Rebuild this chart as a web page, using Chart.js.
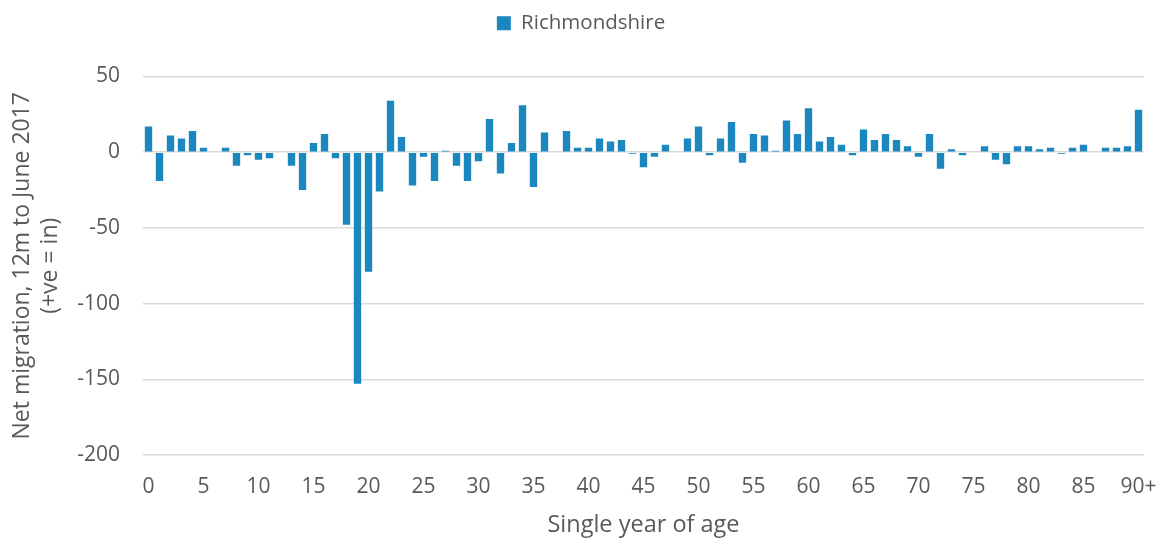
<!DOCTYPE html>
<html><head><meta charset="utf-8">
<script src="https://cdn.jsdelivr.net/npm/chart.js@4.4.1/dist/chart.umd.min.js"></script>
<style>html,body{margin:0;padding:0;background:#fff}#wrap{width:1162px;height:540px;position:relative}</style>
</head><body><div id="wrap"><canvas id="c"></canvas></div>
<script>
const categories = ['0','1','2','3','4','5','6','7','8','9','10','11','12','13','14','15','16','17','18','19',
'20','21','22','23','24','25','26','27','28','29','30','31','32','33','34','35','36','37','38','39',
'40','41','42','43','44','45','46','47','48','49','50','51','52','53','54','55','56','57','58','59',
'60','61','62','63','64','65','66','67','68','69','70','71','72','73','74','75','76','77','78','79',
'80','81','82','83','84','85','86','87','88','89','90+'];
const richmondshire = [17,-19,11,9,14,3,0,3,-9,-2,
-5,-4,0,-9,-25,6,12,-4,-48,-153,
-79,-26,34,10,-22,-3,-19,1,-9,-19,
-6,22,-14,6,31,-23,13,0,14,3,
3,9,7,8,-1,-10,-3,5,0,9,
17,-2,9,20,-7,12,11,1,21,12,
29,7,10,5,-2,15,8,12,8,4,
-3,12,-11,2,-2,0,4,-5,-8,4,
4,2,3,-1,3,5,0,3,3,4,28];
const xTickLabels = ['0','5','10','15','20','25','30','35','40','45','50','55','60','65','70','75','80','85','90+'];
const yTicks = [-200,-150,-100,-50,0,50];
const seriesName = 'Richmondshire';
const yTitle = ['Net migration, 12m to June 2017','(+ve = in)'];
const xTitle = 'Single year of age';

const FONT = "'Open Sans', 'DejaVu Sans', sans-serif";
const TXT = '#595959';
const BAR = '#1a87bf';

const legendSpace = {
  id: 'legendSpace',
  beforeUpdate(chart) {
    const lg = chart.legend;
    if (lg && !lg._wrapped) {
      const orig = lg.fit.bind(lg);
      lg.fit = function () { orig(); this.height += 33; };
      lg._wrapped = true;
    }
  }
};

new Chart(document.getElementById('c'), {
  type: 'bar',
  data: {
    labels: categories,
    datasets: [{
      label: seriesName,
      data: richmondshire,
      backgroundColor: BAR,
      borderWidth: 0,
      barPercentage: 1,
      categoryPercentage: 0.67
    }]
  },
  options: {
    responsive: true,
    maintainAspectRatio: false,
    animation: false,
    layout: { padding: { left: 0, right: 0, top: 3, bottom: 0 } },
    plugins: {
      legend: {
        position: 'top',
        labels: {
          boxWidth: 14, boxHeight: 14, padding: 10,
          color: TXT,
          font: { family: FONT, size: 20.5 }
        }
      },
      tooltip: { enabled: false }
    },
    scales: {
      x: {
        grid: { display: false, drawTicks: false },
        border: { display: false },
        ticks: {
          autoSkip: false, maxRotation: 0, minRotation: 0,
          padding: 19,
          color: TXT,
          font: { family: FONT, size: 21 },
          callback: function (v, i) { const l = categories[i]; return xTickLabels.includes(l) ? l : ''; }
        },
        title: {
          display: true, text: xTitle, color: TXT,
          font: { family: FONT, size: 23.5 },
          padding: { top: 0, bottom: 1 }
        },
        afterFit(s) { s.height = 85; s.paddingLeft = 0; s.paddingRight = 18; }
      },
      y: {
        min: -200, max: 50,
        afterBuildTicks(s) { s.ticks = yTicks.map(v => ({ value: v })); },
        grid: { color: '#d9d9d9', lineWidth: 1.5, drawTicks: false },
        border: { display: false },
        ticks: {
          padding: 23, color: TXT,
          font: { family: FONT, size: 21 }
        },
        title: {
          display: true, text: yTitle, color: TXT,
          font: { family: FONT, size: 23, lineHeight: 1.2 },
          padding: { top: 9, bottom: 0 }
        },
        afterFit(s) { s.width = 143; }
      }
    }
  },
  plugins: [legendSpace]
});
</script>
</body></html>
